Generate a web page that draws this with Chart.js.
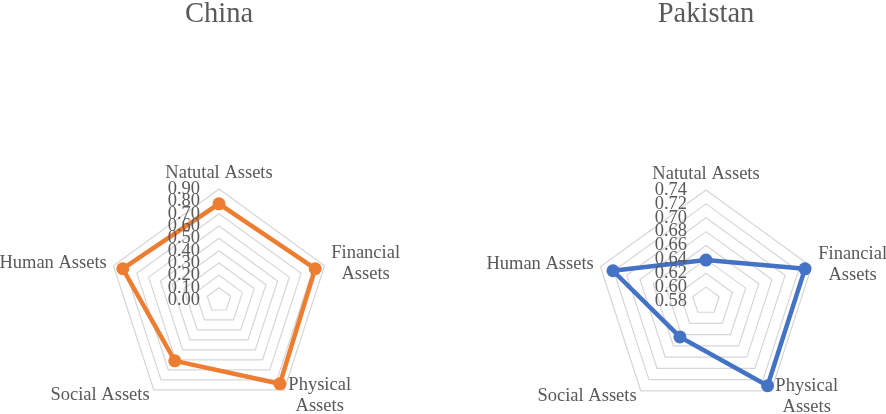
<!DOCTYPE html>
<html>
<head>
<meta charset="utf-8">
<title>China / Pakistan assets</title>
<script src="https://cdn.jsdelivr.net/npm/chart.js@4.4.1/dist/chart.umd.min.js"></script>
<style>
  body { margin: 0; background: #fff; }
  .panel { position: absolute; top: 0; width: 443px; height: 414px; }
  #chinaPanel { left: 0; }
  #pakistanPanel { left: 443px; }
</style>
</head>
<body>
<div class="panel" id="chinaPanel"><canvas id="chinaChart" width="443" height="414"></canvas></div>
<div class="panel" id="pakistanPanel"><canvas id="pakistanChart" width="443" height="414"></canvas></div>
<script>
// categories (two-line labels kept as arrays)
var ASSET_LABELS = ['Natutal Assets', ['Financial', 'Assets'], ['Physical', 'Assets'], 'Social Assets', 'Human Assets'];

// values
var CHINA_VALUES = [0.78, 0.82, 0.84, 0.61, 0.82];
var PAKISTAN_VALUES = [0.639, 0.730, 0.731, 0.644, 0.721];

// axis ranges / tick steps
var CHINA_AXIS = [0.00, 0.90, 0.10];
var PAKISTAN_AXIS = [0.58, 0.74, 0.02];

var TEXT_COLOR = '#595959';
var SERIF = '"Liberation Serif", "Times New Roman", serif';

// draws the tick labels and the category labels the way the original does
var assetLabels = {
    id: 'assetLabels',
    afterDatasetsDraw: function(chart) {
        var scale = chart.scales.r;
        var ctx = chart.ctx;
        var lineHeight = 21.5;
        ctx.save();
        ctx.fillStyle = TEXT_COLOR;
        ctx.font = '18.5px ' + SERIF;

        ctx.textAlign = 'right';
        ctx.textBaseline = 'middle';
        scale.ticks.forEach(function(tick) {
            var d = scale.getDistanceFromCenterForValue(tick.value);
            ctx.fillText(tick.value.toFixed(2), scale.xCenter - 19, scale.yCenter - d);
        });

        ctx.textAlign = 'center';
        chart.data.labels.forEach(function(label, i) {
            var lines = [].concat(label);
            var p = scale.getPointPosition(i, scale.drawingArea + 7);
            var dx = p.x - scale.xCenter;
            var widths = lines.map(function(l) { return ctx.measureText(l).width; });
            var blockWidth = Math.max.apply(null, widths);
            var h = lines.length * lineHeight;
            var midX = p.x;
            if (dx > 1) midX = p.x + blockWidth / 2;
            if (dx < -1) midX = p.x - blockWidth / 2;
            var midY = p.y;
            if (Math.abs(dx) <= 1 && p.y < scale.yCenter) midY = p.y - 9;
            var y0 = midY - h / 2 + lineHeight / 2;
            lines.forEach(function(l, j) {
                ctx.fillText(l, midX, y0 + j * lineHeight);
            });
        });
        ctx.restore();
    }
};

function makeRadar(canvasId, title, values, axis, color, padding) {
    return new Chart(document.getElementById(canvasId), {
        type: 'radar',
        data: {
            labels: ASSET_LABELS,
            datasets: [{
                data: values,
                borderColor: color,
                backgroundColor: color,
                fill: false,
                borderWidth: 4.5,
                pointRadius: 6.5,
                pointBorderWidth: 0,
                pointBackgroundColor: color,
                clip: false
            }]
        },
        options: {
            responsive: false,
            animation: false,
            layout: { padding: padding },
            plugins: {
                legend: { display: false },
                tooltip: { enabled: false },
                title: {
                    display: true,
                    text: title,
                    color: TEXT_COLOR,
                    font: { family: SERIF, size: 28.5, weight: 'normal', lineHeight: '29px' },
                    padding: { top: 0, bottom: padding.titleGap }
                }
            },
            scales: {
                r: {
                    min: axis[0],
                    max: axis[1],
                    ticks: { stepSize: axis[2], display: false },
                    grid: { color: '#d6d6d6', lineWidth: 1.2 },
                    angleLines: { display: false },
                    pointLabels: { display: false }
                }
            }
        },
        plugins: [assetLabels]
    });
}

makeRadar('chinaChart', 'China', CHINA_VALUES, CHINA_AXIS, '#ED7D31',
    { left: 108, right: 113, top: 0, bottom: 3, titleGap: 160 });
makeRadar('pakistanChart', 'Pakistan', PAKISTAN_VALUES, PAKISTAN_AXIS, '#4472C4',
    { left: 152, right: 69, top: 0, bottom: 2, titleGap: 161 });
</script>
</body>
</html>
